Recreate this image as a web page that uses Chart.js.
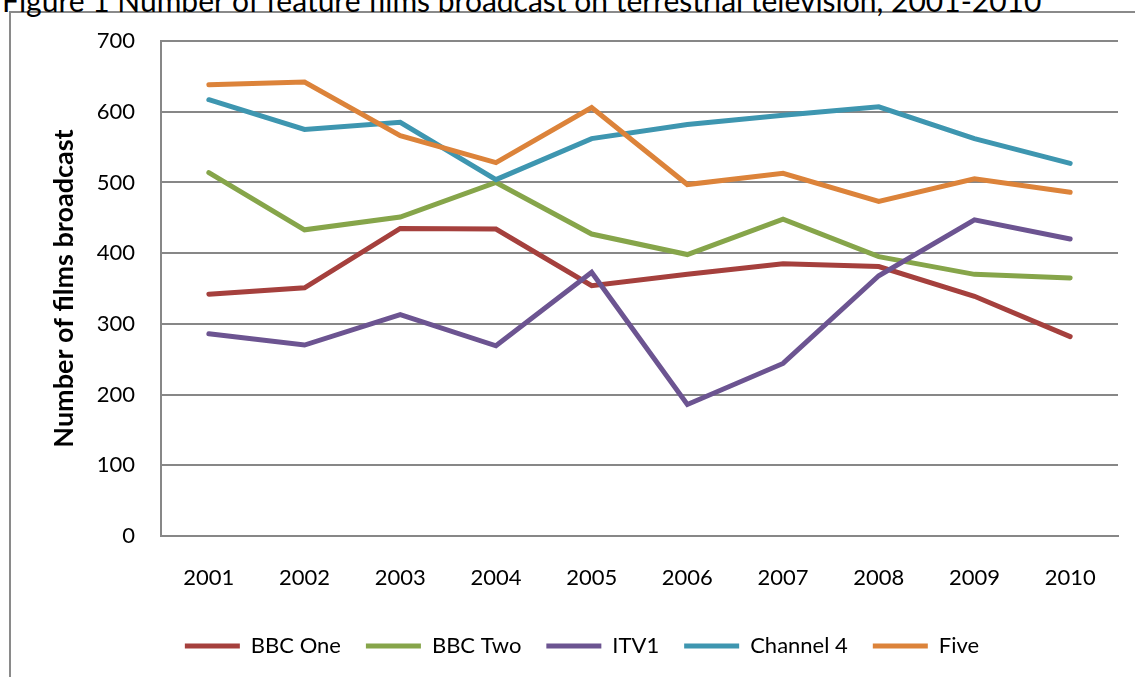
<!DOCTYPE html>
<html>
<head>
<meta charset="utf-8">
<script src="https://cdn.jsdelivr.net/npm/chart.js@4/dist/chart.umd.min.js"></script>
<style>
  html, body { margin: 0; padding: 0; background: #fff; overflow: hidden; }
  #wrap { position: relative; width: 1135px; height: 677px; overflow: hidden; }
  #frame {
    position: absolute; left: 9px; top: 11px; width: 2000px; height: 2000px;
    border: 2px solid #8a8a8a; box-sizing: border-box;
  }
  #title {
    position: absolute; left: 2px; top: -15px; white-space: nowrap;
    font-family: Lato, sans-serif; font-size: 30px; line-height: 30px; color: #000;
  }
  #chart { position: absolute; left: 0; top: 0; }
</style>
</head>
<body>
<div id="wrap">
  <div id="frame"></div>
  <div id="title">Figure 1 Number of feature films broadcast on terrestrial television, 2001-2010</div>
  <canvas id="chart" width="1135" height="677"></canvas>
</div>
<script>
  const years = ["2001", "2002", "2003", "2004", "2005", "2006", "2007", "2008", "2009", "2010"];
  const bbcOne = [342, 351, 435, 434, 354, 370, 385, 381, 339, 282];
  const bbcTwo = [514, 433, 451, 500, 427, 398, 448, 395, 370, 365];
  const itv1 = [286, 270, 313, 269, 373, 186, 244, 368, 447, 420];
  const channel4 = [617, 575, 585, 504, 562, 582, 595, 607, 562, 527];
  const five = [638, 642, 566, 528, 606, 497, 513, 473, 505, 486];
  const seriesNames = ["BBC One", "BBC Two", "ITV1", "Channel 4", "Five"];
  const seriesColors = ["#a5403d", "#86a54a", "#6c5491", "#3e96b0", "#dc833a"];
  const yTicks = [0, 100, 200, 300, 400, 500, 600, 700];

  const GRID = "#878787";
  const FONT = "Lato, 'Open Sans', sans-serif";

  const seriesValues = [bbcOne, bbcTwo, itv1, channel4, five];
  const datasets = seriesValues.map((values, i) => ({
    label: seriesNames[i],
    data: values,
    borderColor: seriesColors[i],
    backgroundColor: seriesColors[i],
    borderWidth: 5,
    borderCapStyle: "round",
    borderJoinStyle: "miter",
    pointRadius: 0,
    pointHoverRadius: 0,
    tension: 0,
    fill: false,
    // later series sit on top, like the original
    order: seriesValues.length - i,
  }));

  new Chart(document.getElementById("chart"), {
    type: "line",
    data: { labels: years, datasets },
    options: {
      responsive: false,
      animation: false,
      // wide left padding pushes the centred legend right; y axis width makes up the rest
      layout: { padding: { left: 46, right: 17, top: 41, bottom: 10 } },
      plugins: {
        tooltip: { enabled: false },
        title: { display: false },
        legend: {
          position: "bottom",
          labels: {
            usePointStyle: true,
            pointStyle: "line",
            pointStyleWidth: 55,
            boxHeight: 22,
            padding: 25,
            color: "#000",
            font: { family: FONT, size: 22 },
            sort: (a, b) => a.datasetIndex - b.datasetIndex,
          },
        },
      },
      scales: {
        x: {
          offset: true,
          grid: { display: false, drawTicks: false },
          border: { display: true, color: GRID, width: 2 },
          ticks: { color: "#000", padding: 29, font: { family: FONT, size: 22 } },
          afterFit: (scale) => { scale.height = 74; },
        },
        y: {
          min: 0,
          max: 700,
          afterBuildTicks: (scale) => { scale.ticks = yTicks.map((v) => ({ value: v })); },
          grid: { color: GRID, lineWidth: 2, drawTicks: false },
          border: { display: true, color: GRID, width: 2 },
          ticks: { color: "#000", padding: 26, font: { family: FONT, size: 22 } },
          title: {
            display: true,
            text: "Number of films broadcast",
            color: "#000",
            font: { family: FONT, size: 27, weight: "bold" },
            padding: { top: 2, bottom: 0 },
          },
          afterFit: (scale) => { scale.width = 115; },
        },
      },
    },
  });
</script>
</body>
</html>
